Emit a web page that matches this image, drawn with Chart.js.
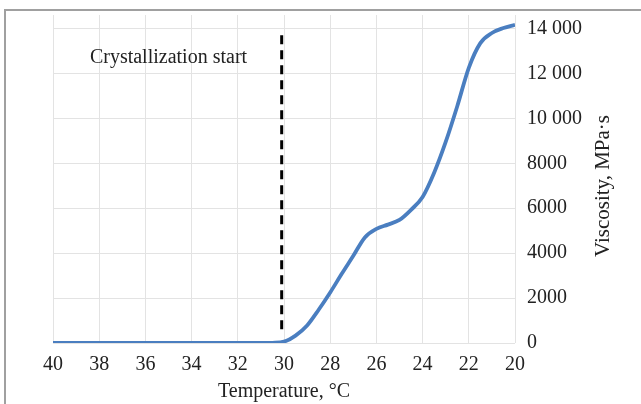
<!DOCTYPE html>
<html>
<head>
<meta charset="utf-8">
<script src="https://cdn.jsdelivr.net/npm/chart.js@4/dist/chart.umd.min.js"></script>
<style>
    html, body { margin: 0; padding: 0; background: #fff; }
    #wrap { width: 641px; height: 404px; position: relative; }
</style>
</head>
<body>
<div id="wrap"><canvas id="viscosityChart" width="641" height="404"></canvas></div>
<script>
// Temperature (°C) and viscosity (MPa·s)
const temperatures = [40, 38, 36, 34, 32, 31, 30.5, 30, 29.5, 29, 28.5, 28, 27.5, 27, 26.5, 26, 25.5, 25, 24.5, 24, 23.5, 23, 22.5, 22, 21.5, 21, 20.5, 20];
const viscosity = [0, 0, 0, 10, 0, 0, 10, 60, 330, 780, 1480, 2250, 3080, 3880, 4700, 5080, 5270, 5480, 5930, 6500, 7580, 8950, 10540, 12250, 13350, 13800, 14020, 14160];

const xTicks = [40, 38, 36, 34, 32, 30, 28, 26, 24, 22, 20];
const yTicks = [0, 2000, 4000, 6000, 8000, 10000, 12000, 14000];

// crystallization start marker
const crystallizationTemp = 30.1;
const markerRange = [500, 13700];
const markerLabel = 'Crystallization start';
const markerLabelAt = [35.0, 12700];

const serif = '"Liberation Serif", "DejaVu Serif", serif';
const textColor = '#222';

function formatViscosity(v) {
    // thin grouping only for five-digit numbers, like the original
    return v >= 10000 ? String(v).replace(/(\d)(?=(\d{3})$)/, '$1 ') : String(v);
}

const framePlugin = {
    id: 'frame',
    beforeDraw(chart) {
        const ctx = chart.ctx;
        ctx.save();
        ctx.strokeStyle = '#a0a0a0';
        ctx.lineWidth = 2;
        ctx.beginPath();
        ctx.moveTo(641, 10);
        ctx.lineTo(5, 10);
        ctx.lineTo(5, 404);
        ctx.stroke();
        ctx.restore();
    }
};

const markerPlugin = {
    id: 'marker',
    afterDatasetsDraw(chart) {
        const ctx = chart.ctx;
        const x = chart.scales.x;
        const y = chart.scales.y;
        const px = x.getPixelForValue(crystallizationTemp);

        ctx.save();
        ctx.strokeStyle = '#000';
        ctx.lineWidth = 3;
        ctx.setLineDash([9, 6]);
        ctx.beginPath();
        ctx.moveTo(px, y.getPixelForValue(markerRange[1]));
        ctx.lineTo(px, y.getPixelForValue(markerRange[0]));
        ctx.stroke();
        ctx.setLineDash([]);

        ctx.fillStyle = textColor;
        ctx.font = '20px ' + serif;
        ctx.textAlign = 'center';
        ctx.textBaseline = 'middle';
        ctx.fillText(markerLabel, x.getPixelForValue(markerLabelAt[0]), y.getPixelForValue(markerLabelAt[1]));

        // y axis title, reading bottom to top
        ctx.font = '21px ' + serif;
        ctx.translate(603, 186);
        ctx.rotate(-Math.PI / 2);
        ctx.fillText('Viscosity, MPa·s', 0, 0);
        ctx.restore();
    }
};

new Chart(document.getElementById('viscosityChart'), {
    type: 'line',
    data: {
        datasets: [{
            data: temperatures.map((t, i) => ({ x: t, y: viscosity[i] })),
            borderColor: '#4a7ec0',
            borderWidth: 3.8,
            pointRadius: 0,
            cubicInterpolationMode: 'monotone',
            fill: false
        }]
    },
    options: {
        responsive: false,
        animation: false,
        layout: { padding: { left: 53, top: 15, right: 0, bottom: 0 } },
        plugins: {
            legend: { display: false },
            tooltip: { enabled: false }
        },
        scales: {
            x: {
                type: 'linear',
                reverse: true,
                min: 20,
                max: 40,
                afterBuildTicks: scale => { scale.ticks = xTicks.map(v => ({ value: v })); },
                afterFit: scale => { scale.height = 61; },
                grid: { color: '#e3e3e3', drawTicks: false },
                border: { display: false },
                ticks: {
                    padding: 10,
                    color: textColor,
                    font: { family: serif, size: 20 },
                    maxRotation: 0
                },
                title: {
                    display: true,
                    text: 'Temperature, °C',
                    color: textColor,
                    font: { family: serif, size: 20 },
                    padding: { top: 4, bottom: 0 }
                }
            },
            y: {
                position: 'right',
                min: 0,
                max: 14600,
                afterBuildTicks: scale => { scale.ticks = yTicks.map(v => ({ value: v })); },
                afterFit: scale => {
                    scale.width = 126;
                    scale.paddingTop = 0;
                    scale.paddingBottom = 0;
                },
                grid: { color: '#e3e3e3', drawTicks: false },
                border: { display: false },
                ticks: {
                    padding: 12,
                    color: textColor,
                    font: { family: serif, size: 20 },
                    callback: v => formatViscosity(v)
                }
            }
        }
    },
    plugins: [framePlugin, markerPlugin]
});
</script>
</body>
</html>
